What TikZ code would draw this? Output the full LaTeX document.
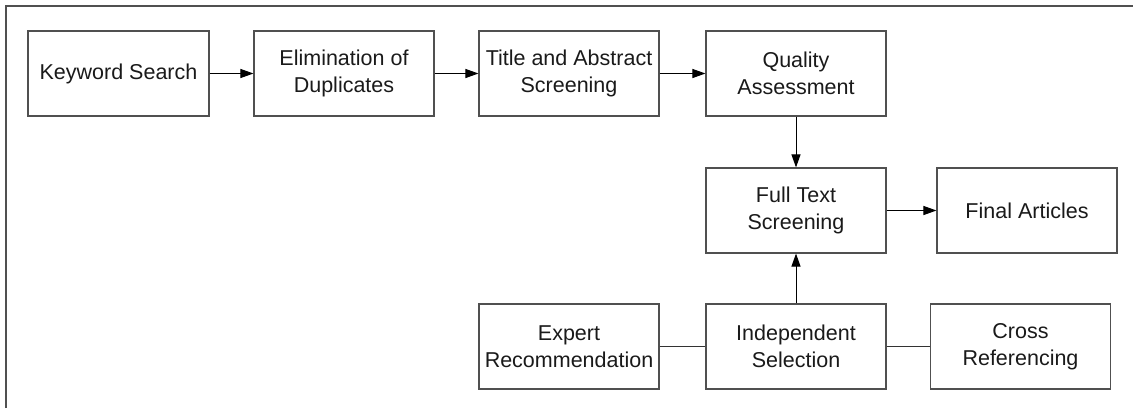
\documentclass[tikz,border=0pt]{standalone}
\usepackage{fontspec}
\setmainfont{Liberation Sans}
\usetikzlibrary{arrows.meta}
\definecolor{edge}{HTML}{505050}
\definecolor{ink}{HTML}{1A1A1A}
\begin{document}
\begin{tikzpicture}[x=1pt,y=-1pt,
  stage/.style={draw=edge,line width=1.1pt,fill=white,minimum width=180pt,minimum height=85pt,
    inner sep=0pt,align=center,text=ink,font=\fontsize{21.5}{26.5}\selectfont},
  flow/.style={draw=black,line width=1pt,-{Triangle[length=13pt,width=9pt]}},
  link/.style={draw=black!80,line width=1pt}]
  \useasboundingbox (0,0) rectangle (1133,408);
  % frame along the top and left edges
  \draw[edge,line width=1.5pt] (6,408) -- (6,6) -- (1133,6);

  \node[stage,minimum width=181pt] (kw) at (118.5,73.5) {Keyword Search};
  \node[stage] (el) at (344,73.5) {Elimination of\\Duplicates};
  \node[stage] (ti) at (569,73.5) {Title and Abstract\\Screening};
  \node[stage] (qa) at (796,73.5) {Quality\\Assessment};
  \node[stage] (ft) at (796,210.5) {Full Text\\Screening};
  \node[stage] (fa) at (1027,210.5) {Final Articles};
  \node[stage] (ex) at (569,346.5) {Expert\\Recommendation};
  \node[stage] (is) at (796,346.5) {Independent\\Selection};
  \node[stage] (cr) at (1020.5,346.5) {Cross\\Referencing};

  \draw[flow] (kw) -- (el);
  \draw[flow] (el) -- (ti);
  \draw[flow] (ti) -- (qa);
  \draw[flow] (qa) -- (ft);
  \draw[flow] (ft) -- (fa);
  \draw[flow] (is) -- (ft);
  \draw[link] (ex) -- (is);
  \draw[link] (is) -- (cr);
\end{tikzpicture}
\end{document}
